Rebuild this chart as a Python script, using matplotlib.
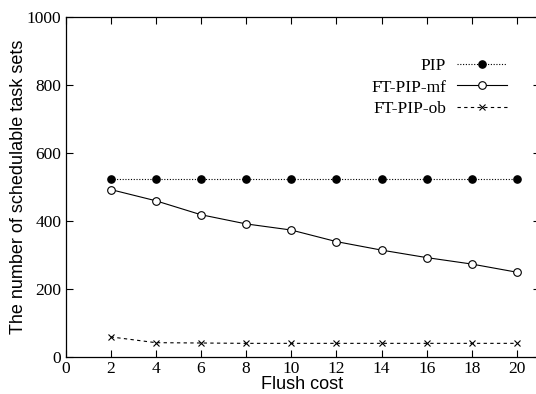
import numpy as np
import matplotlib
matplotlib.use("Agg")
import matplotlib.pyplot as plt

flush_cost = [2, 4, 6, 8, 10, 12, 14, 16, 18, 20]
pip = [525, 525, 525, 525, 525, 525, 525, 525, 525, 525]
ft_pip_mf = [493, 460, 419, 392, 374, 340, 315, 293, 274, 250]
ft_pip_ob = [60, 43, 42, 41, 41, 41, 41, 41, 41, 41]

xticks = list(range(0, 21, 2))
yticks = [0, 200, 400, 600, 800, 1000]

serif = ['Liberation Serif', 'DejaVu Serif']
sans = ['Liberation Sans', 'DejaVu Sans']

W, H = 536, 394
fig = plt.figure(figsize=(W / 100, H / 100), dpi=100)
ax = fig.add_axes([65.5 / W, 36.7 / H, 474 / W, 340.3 / H])

ax.plot(flush_cost, pip, color='black', linestyle=(0, (1, 1.5)), linewidth=0.8,
        marker='o', markersize=5.2, markerfacecolor='black', label='PIP')
ax.plot(flush_cost, ft_pip_mf, color='black', linestyle='-', linewidth=0.8,
        marker='o', markersize=5.5, markerfacecolor='white', markeredgewidth=0.8,
        label='FT-PIP-mf')
ax.plot(flush_cost, ft_pip_ob, color='black', linestyle=(0, (3, 3)), linewidth=0.8,
        marker='x', markersize=5, markeredgewidth=0.8, label='FT-PIP-ob')

ax.set_xlim(0, 21)
ax.set_ylim(0, 1000)
ax.set_xticks(xticks)
ax.set_yticks(yticks)
ax.tick_params(direction='in', top=True, right=True, length=5, width=0.8,
               labelsize=12.5, pad=3)
for lab in ax.get_xticklabels() + ax.get_yticklabels():
    lab.set_family(serif)
for s in ax.spines.values():
    s.set_linewidth(0.9)

ax.set_xlabel('Flush cost', family=sans, fontsize=13, labelpad=-1)
ax.set_ylabel('The number of schedulable task sets', family=sans, fontsize=13, labelpad=0)

leg = ax.legend(loc='upper right', bbox_to_anchor=(507 / W, (H - 58) / H),
                bbox_transform=fig.transFigure, frameon=False, markerfirst=False,
                numpoints=1, handlelength=2.9, handletextpad=0.6, labelspacing=0.3,
                borderpad=0, borderaxespad=0, prop={'family': serif, 'size': 12.5})

fig.savefig('out.png', dpi=100)
